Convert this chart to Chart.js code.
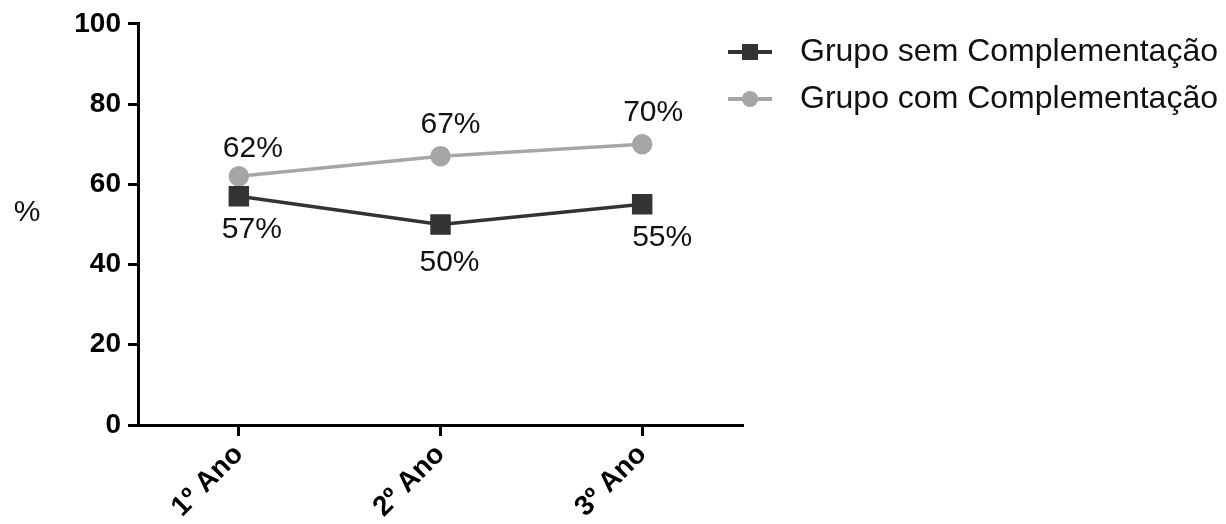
<!DOCTYPE html>
<html lang="pt">
<head>
  <meta charset="UTF-8">
  <title>Grupos por Ano</title>
  <script src="https://cdn.jsdelivr.net/npm/chart.js"></script>
  <style>
    body { margin: 0; background: #fff; }
    .wrap { width: 1226px; height: 524px; position: relative; }
  </style>
</head>
<body>
  <div class="wrap"><canvas id="chart"></canvas></div>

  <script>
    // data
    const anos = ['1º Ano', '2º Ano', '3º Ano'];
    const semComplementacao = [57, 50, 55];
    const comComplementacao = [62, 67, 70];
    const yTicks = [0, 20, 40, 60, 80, 100];

    const DARK = '#333333';
    const GRAY = '#a6a6a6';
    const FONT = "'Liberation Sans', Arial, sans-serif";

    // legend icon: line with marker in the middle
    function legendIcon(color, shape) {
      const c = document.createElement('canvas');
      c.width = 44; c.height = 20;
      const g = c.getContext('2d');
      g.strokeStyle = color; g.lineWidth = 4;
      g.beginPath(); g.moveTo(0, 10); g.lineTo(44, 10); g.stroke();
      g.fillStyle = color;
      if (shape === 'rect') g.fillRect(14, 2, 16, 16);
      else { g.beginPath(); g.arc(22, 10, 8, 0, Math.PI * 2); g.fill(); }
      return c;
    }
    const icons = [legendIcon(DARK, 'rect'), legendIcon(GRAY, 'circle')];

    // value labels next to points (offsets per dataset / point)
    const labelShift = [
      [[13, 33], [9, 38], [20, 33]],
      [[14, -28], [10, -31], [11, -31]]
    ];
    const valueLabels = {
      id: 'valueLabels',
      afterDatasetsDraw(chart) {
        const ctx = chart.ctx;
        ctx.save();
        ctx.font = '30px ' + FONT;
        ctx.fillStyle = '#111';
        ctx.textAlign = 'center';
        ctx.textBaseline = 'middle';
        chart.data.datasets.forEach((ds, di) => {
          chart.getDatasetMeta(di).data.forEach((pt, i) => {
            const [dx, dy] = labelShift[di][i];
            ctx.fillText(ds.data[i] + '%', pt.x + dx, pt.y + dy);
          });
        });
        ctx.restore();
      }
    };

    // "%" axis title, drawn upright
    const yTitle = {
      id: 'yTitle',
      afterDraw(chart) {
        const ctx = chart.ctx;
        ctx.save();
        ctx.font = '30px ' + FONT;
        ctx.fillStyle = '#111';
        ctx.textAlign = 'center';
        ctx.textBaseline = 'middle';
        ctx.fillText('%', 27, 213);
        ctx.restore();
      }
    };

    // move legend so it overlaps the plot edge like the original
    const legendPlace = {
      id: 'legendPlace',
      afterLayout(chart) {
        const lg = chart.legend;
        const h = lg.height;
        lg.left = 701; lg.right = 1226; lg.width = 1226 - 701;
        lg.top = 21; lg.bottom = 21 + h;
      }
    };

    new Chart(document.getElementById('chart'), {
      type: 'line',
      data: {
        labels: anos,
        datasets: [
          {
            label: 'Grupo sem Complementação',
            data: semComplementacao,
            borderColor: DARK,
            backgroundColor: DARK,
            borderWidth: 3.5,
            pointStyle: 'rect',
            pointRadius: 12,
            pointHoverRadius: 12,
            tension: 0
          },
          {
            label: 'Grupo com Complementação',
            data: comComplementacao,
            borderColor: GRAY,
            backgroundColor: GRAY,
            borderWidth: 3.5,
            pointStyle: 'circle',
            pointRadius: 8.5,
            pointHoverRadius: 8.5,
            tension: 0
          }
        ]
      },
      options: {
        responsive: true,
        maintainAspectRatio: false,
        animation: false,
        layout: { padding: { top: 22, right: 0, bottom: 0, left: 0 } },
        plugins: {
          tooltip: { enabled: false },
          legend: {
            position: 'right',
            align: 'start',
            maxWidth: 483,
            labels: {
              usePointStyle: true,
              pointStyleWidth: 68,
              padding: 15,
              color: '#111',
              font: { family: FONT, size: 32 },
              generateLabels: chart => chart.data.datasets.map((ds, i) => ({
                text: ds.label,
                pointStyle: icons[i],
                datasetIndex: i,
                hidden: false,
                lineWidth: 0,
                fillStyle: 'transparent',
                strokeStyle: 'transparent',
                fontColor: '#111'
              }))
            }
          }
        },
        scales: {
          x: {
            offset: true,
            afterFit: s => { s.height = 99; },
            border: { display: true, color: '#000', width: 3 },
            grid: { display: true, drawOnChartArea: false, drawTicks: true, tickLength: 11, tickColor: '#000', tickWidth: 3, offset: false },
            ticks: {
              color: '#000',
              maxRotation: 45,
              minRotation: 45,
              padding: 2,
              font: { family: FONT, size: 28, weight: 'bold' }
            }
          },
          y: {
            min: 0,
            max: 100,
            afterFit: s => { s.width = 138; },
            afterBuildTicks: s => { s.ticks = yTicks.map(v => ({ value: v })); },
            border: { display: true, color: '#000', width: 3 },
            grid: { display: true, drawOnChartArea: false, drawTicks: true, tickLength: 10, tickColor: '#000', tickWidth: 3 },
            ticks: {
              color: '#000',
              padding: 7,
              font: { family: FONT, size: 28, weight: 'bold' }
            }
          }
        }
      },
      plugins: [valueLabels, yTitle, legendPlace]
    });
  </script>
</body>
</html>
